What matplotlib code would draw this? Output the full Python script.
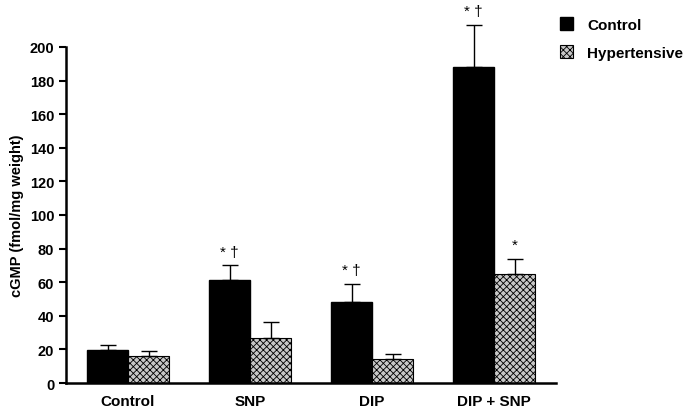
import numpy as np
import matplotlib
matplotlib.use("Agg")
import matplotlib.pyplot as plt

plt.rcParams['font.family'] = ['Liberation Sans', 'DejaVu Sans']
plt.rcParams['font.weight'] = 'bold'
plt.rcParams['hatch.linewidth'] = 0.6

categories = ['Control', 'SNP', 'DIP', 'DIP + SNP']
control_vals = [19.5, 61.5, 48.5, 188]
control_err = [3, 8.5, 10.5, 25]
hyper_vals = [16, 26.5, 14, 65]
hyper_err = [3, 10, 3, 9]
control_marks = ['', '* \u2020', '* \u2020', '* \u2020']
hyper_marks = ['', '', '', '*']

fig = plt.figure(figsize=(6.85, 4.1), dpi=100)
ax = fig.add_axes([0.0964, 0.0634, 0.7153, 0.8196])

x = np.arange(len(categories))
w = 0.336
ax.bar(x - w / 2, control_vals, w, color='black', edgecolor='black', label='Control')
ax.bar(x + w / 2, hyper_vals, w, color='#c8c8c8', edgecolor='black', hatch='xxxxx',
       linewidth=0.8, label='Hypertensive')
for xs, vals, errs in [(x - w / 2, control_vals, control_err), (x + w / 2, hyper_vals, hyper_err)]:
    eb = ax.errorbar(xs, vals, yerr=[np.zeros(4), errs], fmt='none',
                     ecolor='black', elinewidth=1, capsize=6, capthick=1)
    for artist in eb.lines[1] + eb.lines[2]:
        artist.set_clip_on(False)

for i in range(len(categories)):
    if control_marks[i]:
        ax.text(x[i] - w / 2, control_vals[i] + control_err[i] + 4, control_marks[i],
                ha='center', va='bottom', fontsize=11, fontweight='normal')
    if hyper_marks[i]:
        ax.text(x[i] + w / 2, hyper_vals[i] + hyper_err[i] + 4, hyper_marks[i],
                ha='center', va='bottom', fontsize=11, fontweight='normal')

ax.set_xlim(-0.508, 3.508)
ax.set_ylim(0, 200)
ax.set_yticks(np.arange(0, 201, 20))
ax.set_xticks(x)
ax.set_xticklabels(categories, fontsize=11, fontweight='bold')
ax.tick_params(axis='x', length=0, pad=8)
ax.tick_params(axis='y', labelsize=10.5, length=5, width=1.5)
ax.spines['top'].set_visible(False)
ax.spines['right'].set_visible(False)
ax.spines['left'].set_linewidth(1.8)
ax.spines['bottom'].set_linewidth(1.8)
ax.set_ylabel('cGMP (fmol/mg weight)', fontsize=10.5, fontweight='bold')

ax.legend(loc='upper left', bbox_to_anchor=(0.817, 0.955), bbox_transform=fig.transFigure,
          frameon=False, fontsize=11, handlelength=0.9, handleheight=0.9,
          labelspacing=0.85, handletextpad=0.9, borderaxespad=0, borderpad=0)

fig.savefig('out.png', dpi=100)
